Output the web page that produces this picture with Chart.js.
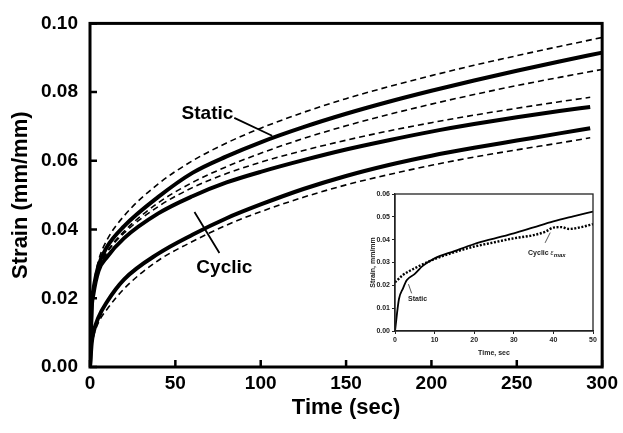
<!DOCTYPE html>
<html>
<head>
<meta charset="utf-8">
<script src="https://cdn.jsdelivr.net/npm/chart.js@4"></script>
<style>
  html, body { margin: 0; padding: 0; background: #fff; }
  #wrap { position: relative; width: 623px; height: 433px; }
  #mainChart { position: absolute; left: 0; top: 0; }
  #insetChart { position: absolute; left: 360px; top: 185px; }
</style>
</head>
<body>
<div id="wrap">
  <canvas id="mainChart" width="623" height="433"></canvas>
  <canvas id="insetChart" width="245" height="180"></canvas>
</div>
<script>
// Main chart data (time in sec, strain in mm/mm)
const staticTime = [0, 1, 2, 5, 10, 20, 40, 60, 80, 100, 125, 150, 175, 200, 225, 250, 275, 300];
const cyclicTime = [0, 1, 2, 5, 10, 20, 40, 60, 80, 100, 125, 150, 175, 200, 225, 250, 275, 293];

const staticMean = [0, 0.0185, 0.0225, 0.0295, 0.035, 0.041, 0.0495, 0.0565, 0.0613, 0.0654, 0.0698, 0.0737, 0.0772, 0.0804, 0.0834, 0.0862, 0.0889, 0.0915];
const staticUpper = [0, 0.019, 0.0235, 0.031, 0.037, 0.044, 0.0533, 0.060, 0.0652, 0.0695, 0.0741, 0.0781, 0.0816, 0.0848, 0.0878, 0.0906, 0.0933, 0.0959];
const staticLower = [0, 0.0175, 0.0215, 0.0285, 0.0335, 0.0395, 0.0478, 0.0537, 0.0583, 0.0622, 0.0665, 0.0702, 0.0735, 0.0765, 0.0793, 0.0819, 0.0843, 0.0866];

const cyclicMax = [0, 0.017, 0.0212, 0.028, 0.032, 0.0375, 0.0447, 0.0497, 0.0537, 0.0568, 0.0602, 0.0633, 0.066, 0.0685, 0.0707, 0.0727, 0.0745, 0.0757];
const cyclicMaxUpper = [0, 0.0172, 0.0213, 0.0283, 0.0333, 0.039, 0.0467, 0.0522, 0.0563, 0.0596, 0.063, 0.066, 0.0687, 0.0711, 0.0733, 0.0753, 0.0772, 0.0785];
const cyclicMin = [0, 0.007, 0.010, 0.0145, 0.019, 0.0255, 0.033, 0.0385, 0.0433, 0.0473, 0.0518, 0.0556, 0.0588, 0.0615, 0.0638, 0.0659, 0.068, 0.0695];
const cyclicMinLower = [0, 0.006, 0.0088, 0.013, 0.0168, 0.0228, 0.031, 0.0365, 0.0413, 0.0452, 0.0494, 0.053, 0.056, 0.0587, 0.0611, 0.0632, 0.0652, 0.0667];

const mainXTicks = [0, 50, 100, 150, 200, 250, 300];
const mainYTicks = [0, 0.02, 0.04, 0.06, 0.08, 0.10];

// Inset data (first 50 sec)
const insetStaticTime = [0, 1, 2, 3, 5, 7, 10, 15, 20, 25, 30, 35, 40, 45, 50];
const insetStatic = [0, 0.014, 0.0186, 0.0223, 0.025, 0.0285, 0.0318, 0.035, 0.0381, 0.0405, 0.0428, 0.0454, 0.048, 0.0502, 0.0523];
const insetCyclicTime = [0, 2, 5, 10, 15, 20, 25, 30, 35, 38, 40, 42, 44, 47, 50];
const insetCyclic = [0.0213, 0.0245, 0.0275, 0.0315, 0.0345, 0.037, 0.0388, 0.0406, 0.042, 0.0435, 0.0453, 0.0455, 0.0447, 0.0455, 0.0468];

const FONT = "'Liberation Sans', Arial, sans-serif";

function pairs(xs, ys) {
  return xs.map((x, i) => ({ x: x, y: ys[i] }));
}

function solid(data, width) {
  return {
    data: data,
    borderColor: '#000',
    borderWidth: width,
    pointRadius: 0,
    fill: false,
    cubicInterpolationMode: 'monotone',
  };
}

function dashed(data, width, dash) {
  return Object.assign(solid(data, width), { borderDash: dash });
}

// Frame + inward ticks for the main chart, and text labels with pointer lines
const mainDecor = {
  id: 'mainDecor',
  afterDraw(chart) {
    const { ctx, chartArea: a, scales } = chart;
    const sx = scales.x, sy = scales.y;
    ctx.save();
    ctx.strokeStyle = '#000';
    ctx.lineWidth = 3;
    ctx.strokeRect(a.left, a.top, a.right - a.left, a.bottom - a.top);
    ctx.lineWidth = 2.5;
    ctx.beginPath();
    mainXTicks.forEach((t) => {
      const px = sx.getPixelForValue(t);
      ctx.moveTo(px, a.bottom);
      ctx.lineTo(px, a.bottom - 7);
    });
    mainYTicks.forEach((v) => {
      const py = sy.getPixelForValue(v);
      ctx.moveTo(a.left, py);
      ctx.lineTo(a.left + 7, py);
    });
    ctx.stroke();

    // labels
    ctx.fillStyle = '#000';
    ctx.font = 'bold 19px ' + FONT;
    ctx.textAlign = 'center';
    ctx.textBaseline = 'middle';
    ctx.fillText('Static', sx.getPixelForValue(68.8), sy.getPixelForValue(0.0736));
    ctx.fillText('Cyclic', sx.getPixelForValue(78.7), sy.getPixelForValue(0.029));
    ctx.lineWidth = 1.8;
    ctx.beginPath();
    ctx.moveTo(sx.getPixelForValue(84.5), sy.getPixelForValue(0.0725));
    ctx.lineTo(sx.getPixelForValue(106.7), sy.getPixelForValue(0.0673));
    ctx.moveTo(sx.getPixelForValue(61.2), sy.getPixelForValue(0.0451));
    ctx.lineTo(sx.getPixelForValue(75.8), sy.getPixelForValue(0.0332));
    ctx.stroke();
    ctx.restore();
  },
};

new Chart(document.getElementById('mainChart'), {
  type: 'line',
  data: {
    datasets: [
      dashed(pairs(staticTime, staticUpper), 1.6, [6, 4]),
      solid(pairs(staticTime, staticMean), 4),
      dashed(pairs(staticTime, staticLower), 1.6, [6, 4]),
      dashed(pairs(cyclicTime, cyclicMaxUpper), 1.6, [6, 4]),
      solid(pairs(cyclicTime, cyclicMax), 4),
      solid(pairs(cyclicTime, cyclicMin), 4),
      dashed(pairs(cyclicTime, cyclicMinLower), 1.6, [6, 4]),
    ],
  },
  options: {
    responsive: false,
    animation: false,
    layout: { padding: { top: 15, right: 17, left: 0, bottom: 0 } },
    plugins: { legend: { display: false }, tooltip: { enabled: false } },
    scales: {
      x: {
        type: 'linear',
        min: 0,
        max: 300,
        afterBuildTicks: (s) => { s.ticks = mainXTicks.map((v) => ({ value: v })); },
        afterFit: (s) => { s.height = 66; },
        grid: { display: false, drawTicks: false },
        border: { display: false },
        ticks: { color: '#000', padding: 5, font: { family: FONT, size: 19, weight: 'bold' } },
        title: {
          display: true,
          text: 'Time (sec)',
          color: '#000',
          font: { family: FONT, size: 22, weight: 'bold' },
          padding: { top: 0, bottom: 12 },
        },
      },
      y: {
        type: 'linear',
        min: 0,
        max: 0.1,
        afterBuildTicks: (s) => { s.ticks = mainYTicks.map((v) => ({ value: v })); },
        afterFit: (s) => { s.width = 90; },
        grid: { display: false, drawTicks: false },
        border: { display: false },
        ticks: {
          color: '#000',
          padding: 12,
          font: { family: FONT, size: 19, weight: 'bold' },
          callback: (v) => v.toFixed(2),
        },
        title: {
          display: true,
          text: 'Strain (mm/mm)',
          color: '#000',
          font: { family: FONT, size: 22, weight: 'bold' },
          padding: { top: 8, bottom: 0 },
        },
      },
    },
  },
  plugins: [mainDecor],
});

// Inset frame and labels
const insetDecor = {
  id: 'insetDecor',
  afterDraw(chart) {
    const { ctx, chartArea: a, scales } = chart;
    const sx = scales.x, sy = scales.y;
    ctx.save();
    ctx.strokeStyle = '#222';
    ctx.lineWidth = 1.3;
    ctx.strokeRect(a.left, a.top, a.right - a.left, a.bottom - a.top);

    ctx.fillStyle = '#222';
    ctx.textBaseline = 'middle';
    ctx.textAlign = 'left';
    ctx.font = 'bold 7px ' + FONT;
    ctx.fillText('Static', sx.getPixelForValue(3.3), sy.getPixelForValue(0.0139));
    let x0 = sx.getPixelForValue(33.6);
    const y0 = sy.getPixelForValue(0.0342);
    ctx.fillText('Cyclic ', x0, y0);
    x0 += ctx.measureText('Cyclic ').width;
    ctx.font = 'italic 7px ' + FONT;
    ctx.fillText('\u03b5', x0, y0);
    x0 += ctx.measureText('\u03b5').width;
    ctx.font = 'bold italic 6px ' + FONT;
    ctx.fillText('max', x0, y0 + 2);

    ctx.strokeStyle = '#444';
    ctx.lineWidth = 0.9;
    ctx.beginPath();
    ctx.moveTo(sx.getPixelForValue(4.2), sy.getPixelForValue(0.0165));
    ctx.lineTo(sx.getPixelForValue(3.4), sy.getPixelForValue(0.0205));
    ctx.moveTo(sx.getPixelForValue(37.9), sy.getPixelForValue(0.0386));
    ctx.lineTo(sx.getPixelForValue(39.2), sy.getPixelForValue(0.0431));
    ctx.stroke();
    ctx.restore();
  },
};

new Chart(document.getElementById('insetChart'), {
  type: 'line',
  data: {
    datasets: [
      solid(pairs(insetStaticTime, insetStatic), 1.8),
      dashed(pairs(insetCyclicTime, insetCyclic), 2.4, [2, 1.6]),
    ],
  },
  options: {
    responsive: false,
    animation: false,
    layout: { padding: { top: 9, right: 12, left: 0, bottom: 0 } },
    plugins: { legend: { display: false }, tooltip: { enabled: false } },
    scales: {
      x: {
        type: 'linear',
        min: 0,
        max: 50,
        afterFit: (s) => { s.height = 34; },
        grid: { drawOnChartArea: false, tickLength: 3, color: '#222', tickColor: '#222', lineWidth: 1 },
        border: { display: true, color: '#222', width: 1.3 },
        ticks: { stepSize: 10, color: '#222', padding: 2, font: { family: FONT, size: 7, weight: 'bold' } },
        title: {
          display: true,
          text: 'Time, sec',
          color: '#222',
          font: { family: FONT, size: 7, weight: 'bold' },
          padding: { top: 0, bottom: 8 },
        },
      },
      y: {
        type: 'linear',
        min: 0,
        max: 0.06,
        afterFit: (s) => { s.width = 35; },
        grid: { drawOnChartArea: false, tickLength: 3, color: '#222', tickColor: '#222', lineWidth: 1 },
        border: { display: true, color: '#222', width: 1.3 },
        ticks: {
          stepSize: 0.01,
          color: '#222',
          padding: 2,
          font: { family: FONT, size: 7, weight: 'bold' },
          callback: (v) => v.toFixed(2),
        },
        title: {
          display: true,
          text: 'Strain, mm/mm',
          color: '#222',
          font: { family: FONT, size: 7, weight: 'bold' },
          padding: { top: 9, bottom: 0 },
        },
      },
    },
  },
  plugins: [insetDecor],
});
</script>
</body>
</html>
